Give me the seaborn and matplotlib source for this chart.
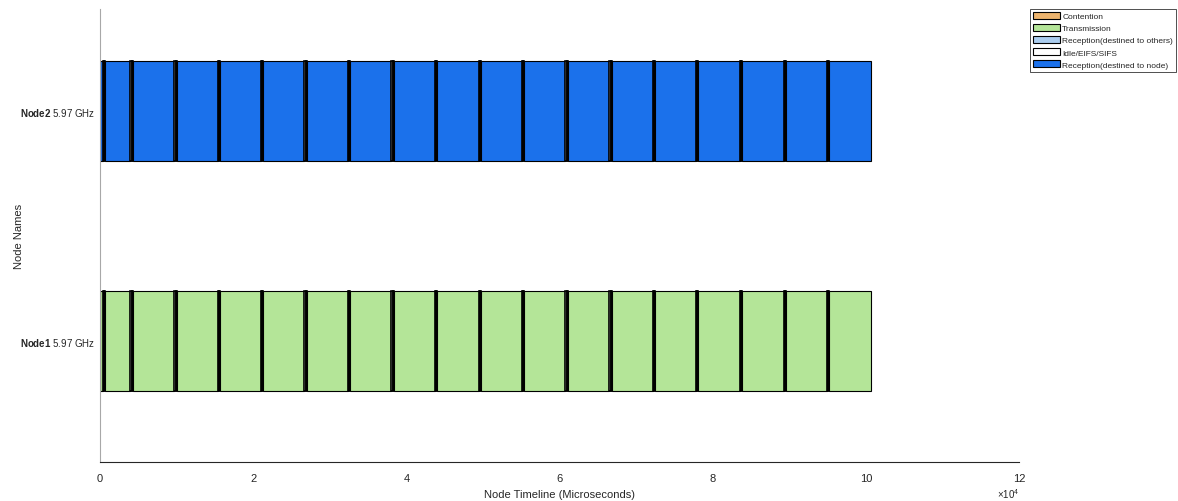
import matplotlib
matplotlib.use("Agg")
import matplotlib.pyplot as plt
import seaborn as sns
from matplotlib.patches import Patch

# node rows (bottom to top)
nodes = ["Node1", "Node2"]
node_freqs = ["5.97 GHz", "5.97 GHz"]
node_main_state = ["Transmission", "Reception(destined to node)"]

# frame boundaries read from the timeline (microseconds)
boundaries = [560, 4140, 9885, 15540, 21190, 26860, 32550, 38220, 43870,
              49620, 55270, 60940, 66680, 72340, 77990, 83700, 89440, 95100]
end_time = 100630
idle_us = 190
contention_us = 150

states = ["Contention", "Transmission", "Reception(destined to others)",
          "Idle/EIFS/SIFS", "Reception(destined to node)"]
state_colors = ["#edb46e", "#b4e598", "#abcdef", "#ffffff", "#1b71eb"]
color_of = dict(zip(states, state_colors))

x_ticks = [0, 20000, 40000, 60000, 80000, 100000, 120000]
x_tick_labels = ["0", "2", "4", "6", "8", "10", "12"]

sns.set_theme(style="white")
plt.rcParams["font.family"] = ["Liberation Sans", "DejaVu Sans"]
plt.rcParams["mathtext.fontset"] = "custom"
plt.rcParams["mathtext.rm"] = "Liberation Sans"
plt.rcParams["mathtext.bf"] = "Liberation Sans:bold"

fig = plt.figure(figsize=(11.78, 5.02), dpi=100)
ax = fig.add_axes([100 / 1178, 39 / 502, 919 / 1178, 453 / 502])

bar_h = 0.435
for i, node in enumerate(nodes):
    y = i + 1
    main = node_main_state[i]
    starts = [0] + [b + contention_us for b in boundaries]
    ends = [b - idle_us for b in boundaries] + [end_time]
    for s, e in zip(starts, ends):
        ax.barh(y, e - s, left=s, height=bar_h, color=color_of[main],
                edgecolor="black", linewidth=0.8)
    for b in boundaries:
        ax.barh(y, idle_us, left=b - idle_us, height=bar_h,
                color=color_of["Idle/EIFS/SIFS"], edgecolor="black",
                linewidth=1.2, joinstyle="miter")
        ax.barh(y, contention_us, left=b, height=bar_h,
                color=color_of["Contention"], edgecolor="black",
                linewidth=1.2, joinstyle="miter")

ax.set_xlim(0, 120000)
ax.set_ylim(0.474, 2.443)
ax.set_xticks(x_ticks)
ax.set_xticklabels(x_tick_labels)
ax.set_yticks([1, 2])
ax.set_yticklabels([r"$\mathbf{%s}$ %s" % (n, f) for n, f in zip(nodes, node_freqs)])
ax.tick_params(axis="x", direction="in", length=4, width=0.8, colors="#262626",
               labelsize=8, pad=8)
ax.tick_params(axis="y", length=0, labelsize=7, colors="#262626", pad=3.5)

for side in ["top", "right"]:
    ax.spines[side].set_visible(False)
ax.spines["left"].set_color("#a8a8a8")
ax.spines["left"].set_linewidth(0.8)
ax.spines["bottom"].set_color("#262626")
ax.spines["bottom"].set_linewidth(0.8)

ax.set_xlabel("Node Timeline (Microseconds)", fontsize=8, color="#262626", labelpad=4)
ax.set_ylabel("Node Names", fontsize=8, color="#262626")
ax.yaxis.set_label_coords(-76 / 919, 0.5)
ax.text(1.0, -0.068, r"$\times10^{4}$", transform=ax.transAxes, ha="right",
        va="center", fontsize=7, color="#262626")

handles = [Patch(facecolor=c, edgecolor="black", linewidth=0.8) for c in state_colors]
leg = fig.legend(handles, states, loc="upper right",
                 bbox_to_anchor=(1176 / 1178, 1 - 10 / 502), fontsize=6,
                 frameon=True, fancybox=False, edgecolor="black",
                 borderpad=0.35, handlelength=3.2, handleheight=0.9,
                 labelspacing=0.45, handletextpad=0.3, borderaxespad=0)
leg.get_frame().set_linewidth(0.6)

fig.savefig("out.png", dpi=100)
